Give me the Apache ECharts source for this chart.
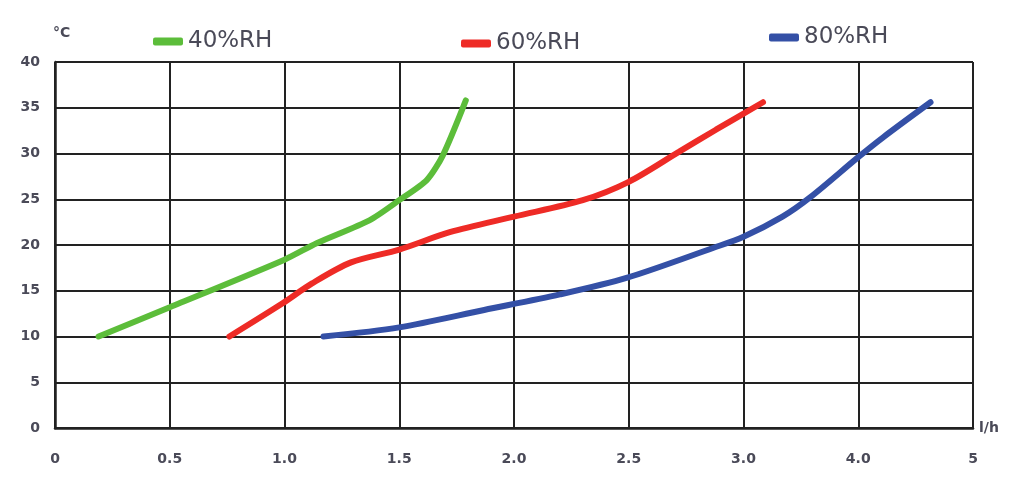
<!DOCTYPE html>
<html><head><meta charset="utf-8">
<script src="https://cdn.jsdelivr.net/npm/echarts@6/dist/echarts.min.js"></script>
<style>html,body{margin:0;padding:0;background:#fff}#c{width:1024px;height:483px}</style>
</head><body><div id="c"></div>
<script>
// tick labels of the (non-uniform) flow axis, each one grid cell apart
const xTickLabels = ['0','0.5','1.0','1.5','2.0','2.5','3.0','4.0','5'];
const xTickValues = [0,0.5,1.0,1.5,2.0,2.5,3.0,4.0,5.0];
const seriesNames = ['40%RH','60%RH','80%RH'];
// flow (l/h) vs temperature (°C)
const rh40Flow = [0.19,0.50,1.00,1.14,1.37,1.50,1.62,1.69,1.79];
const rh40Temp = [10.0,13.2,18.4,20.2,22.7,24.9,27.1,29.8,35.8];
const rh60Flow = [0.76,0.99,1.12,1.29,1.50,1.72,2.00,2.30,2.50,2.72,2.88,3.17];
const rh60Temp = [10.0,13.6,15.8,18.1,19.5,21.4,23.1,24.9,26.9,30.2,32.6,35.6];
const rh80Flow = [1.17,1.50,1.87,2.20,2.49,2.87,3.00,3.34,3.58,4.00,4.22,4.63];
const rh80Temp = [10.0,11.0,12.9,14.6,16.4,19.7,20.9,23.1,25.2,29.6,31.8,35.6];

// axis scale: tick i sits at position i; values between ticks are linear
function toPos(v){
  for(let i=0;i<xTickValues.length-1;i++){
    const a=xTickValues[i], b=xTickValues[i+1];
    if(v<=b) return i+(v-a)/(b-a);
  }
  return xTickValues.length-1;
}
function pairs(fx,ty){return fx.map((f,i)=>[toPos(f),ty[i]]);}

const colors=['#5cbd3a','#ee2b26','#3450a6'];
const chart=echarts.init(document.getElementById('c'),null,{renderer:'canvas'});
const lbl={color:'#4a4a58',fontFamily:'DejaVu Sans, sans-serif',fontSize:14,fontWeight:'bold'};
const legendText={color:'#4a4a58',fontFamily:'DejaVu Sans, sans-serif',fontSize:23};
const legendBase={icon:'roundRect',itemWidth:30,itemHeight:8,itemGap:4,textStyle:legendText,padding:0};
chart.setOption({
  animation:false,
  backgroundColor:'#fff',
  legend:[
    Object.assign({data:[seriesNames[0]],left:153,top:30},legendBase),
    Object.assign({data:[seriesNames[1]],left:461,top:32},legendBase),
    Object.assign({data:[seriesNames[2]],left:769,top:26},legendBase)
  ],
  grid:{left:55,right:51,top:62,bottom:55},
  xAxis:{type:'value',min:0,max:8,interval:1,
    name:'l/h',nameLocation:'end',nameGap:6,nameTextStyle:lbl,
    axisLine:{show:true,onZero:false,lineStyle:{color:'#222',width:2.5}},
    axisTick:{show:false},
    axisLabel:Object.assign({margin:24,formatter:(v)=>xTickLabels[Math.round(v)]},lbl),
    splitLine:{show:true,lineStyle:{color:'#222',width:2}}},
  yAxis:{type:'value',min:0,max:40,interval:5,
    name:'°C',nameLocation:'end',nameGap:22,nameTextStyle:Object.assign({},lbl,{align:'left',padding:[0,0,0,-2]}),
    axisLine:{show:true,lineStyle:{color:'#222',width:2.5}},
    axisTick:{show:false},
    axisLabel:Object.assign({margin:15},lbl),
    splitLine:{show:true,lineStyle:{color:'#222',width:2}}},
  series:[
    {name:seriesNames[0],type:'line',smooth:0.25,showSymbol:false,data:pairs(rh40Flow,rh40Temp),lineStyle:{color:colors[0],width:6,cap:'round'},itemStyle:{color:colors[0]}},
    {name:seriesNames[1],type:'line',smooth:0.3,showSymbol:false,data:pairs(rh60Flow,rh60Temp),lineStyle:{color:colors[1],width:6,cap:'round'},itemStyle:{color:colors[1]}},
    {name:seriesNames[2],type:'line',smooth:0.3,showSymbol:false,data:pairs(rh80Flow,rh80Temp),lineStyle:{color:colors[2],width:6,cap:'round'},itemStyle:{color:colors[2]}}
  ]
});
</script></body></html>
